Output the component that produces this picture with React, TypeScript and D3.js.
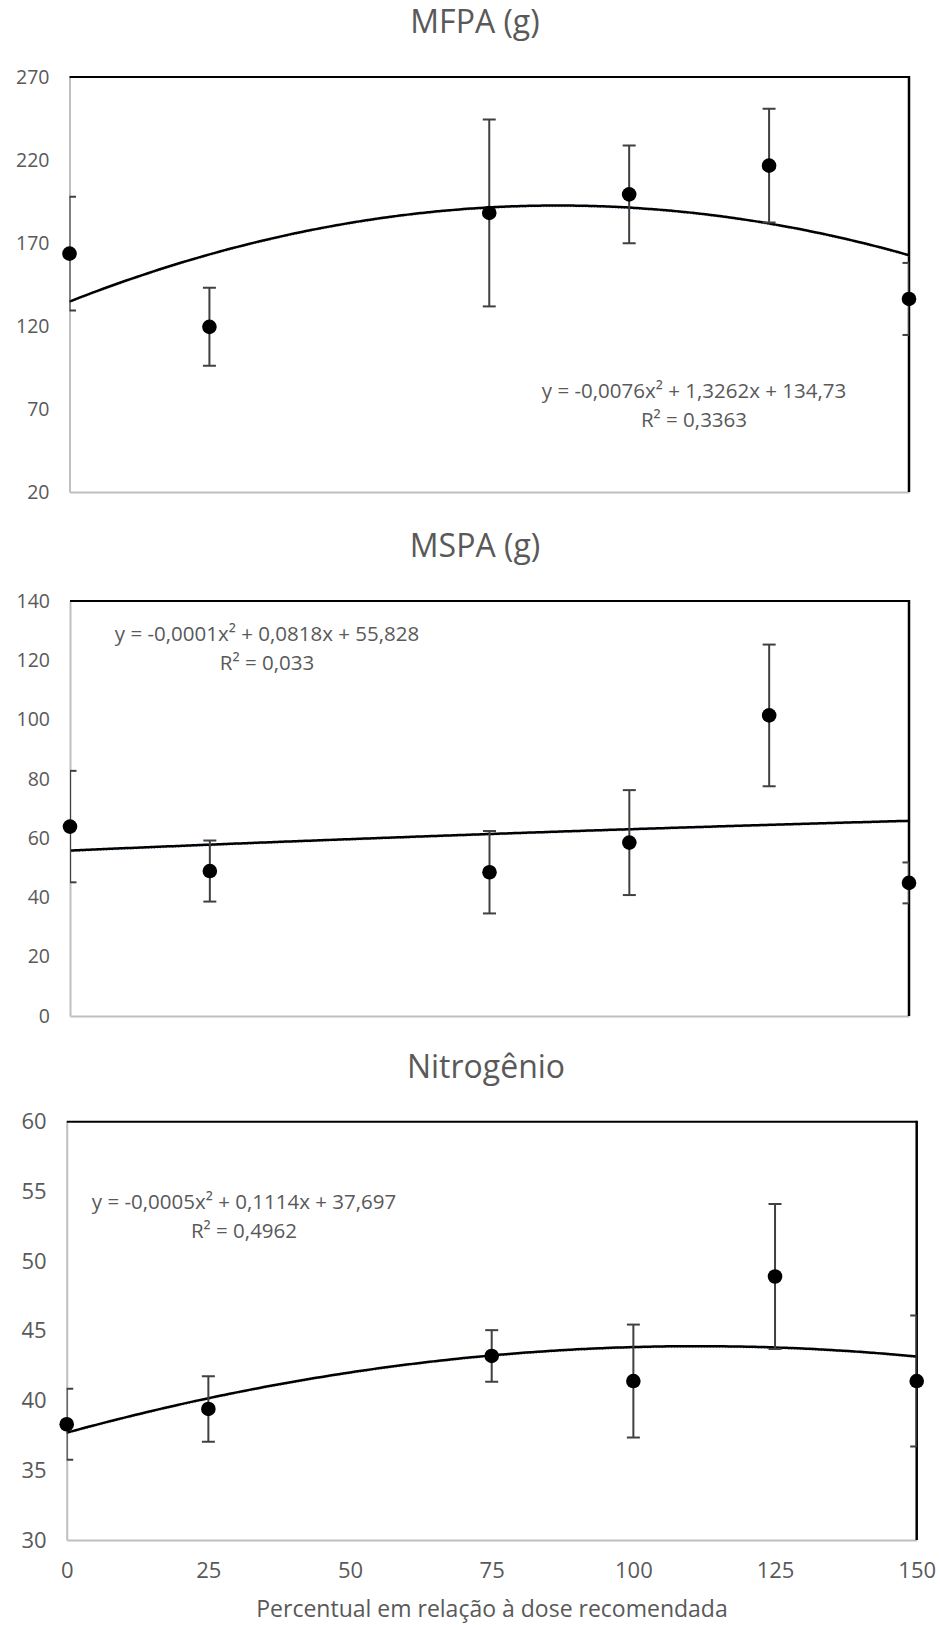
import React, { useEffect, useRef } from "react";
import * as d3 from "d3";

// doses (% of the recommended dose)
const doses = [0, 25, 75, 100, 125, 150];
const xTicks = [0, 25, 50, 75, 100, 125, 150];
const xAxisLabel = "Percentual em relação à dose recomendada";

const titles = ["MFPA (g)", "MSPA (g)", "Nitrogênio"];

const mfpaMean = [163.6, 119.5, 188.1, 199.3, 216.6, 136.3];
const mfpaErr = [34.3, 23.5, 56.3, 29.5, 34.2, 21.7];
const mfpaTicks = [20, 70, 120, 170, 220, 270];

const mspaMean = [63.9, 48.9, 48.5, 58.5, 101.4, 44.9];
const mspaErr = [18.8, 10.3, 13.9, 17.7, 23.9, 6.9];
const mspaTicks = [0, 20, 40, 60, 80, 100, 120, 140];

const nitroMean = [38.3, 39.4, 43.2, 41.4, 48.9, 41.4];
const nitroErr = [2.55, 2.35, 1.85, 4.05, 5.2, 4.7];
const nitroTicks = [30, 35, 40, 45, 50, 55, 60];

// quadratic trendlines as printed on the chart
const quadA = [-0.0076, -0.0001, -0.0005];
const quadB = [1.3262, 0.0818, 0.1114];
const quadC = [134.73, 55.828, 37.697];
const equations = [
  "y = -0,0076x² + 1,3262x + 134,73",
  "y = -0,0001x² + 0,0818x + 55,828",
  "y = -0,0005x² + 0,1114x + 37,697",
];
const r2Labels = ["R² = 0,3363", "R² = 0,033", "R² = 0,4962"];

const means = [mfpaMean, mspaMean, nitroMean];
const errs = [mfpaErr, mspaErr, nitroErr];
const yTicks = [mfpaTicks, mspaTicks, nitroTicks];

const layout = [
  { left: 69.5, right: 909, top: 77, bottom: 492, titleX: 475, titleY: 33, eqX: 694, eqY: 398, tick: 19.5 },
  { left: 70, right: 909, top: 601, bottom: 1016, titleX: 475, titleY: 557, eqX: 267, eqY: 641, tick: 19.5 },
  { left: 66.7, right: 916.7, top: 1121.7, bottom: 1540, titleX: 486, titleY: 1078, eqX: 244, eqY: 1209, tick: 22 },
];

const FONT = "'Open Sans', 'Noto Sans', sans-serif";
const TEXT = "#595959";

export default function App() {
  const svgRef = useRef<SVGSVGElement>(null);

  useEffect(() => {
    const svg = d3.select(svgRef.current);
    svg.selectAll("*").remove();

    layout.forEach((L, i) => {
      const g = svg.append("g");
      const ticks = yTicks[i];
      const x = d3.scaleLinear().domain([0, 150]).range([L.left, L.right]);
      const y = d3
        .scaleLinear()
        .domain([ticks[0], ticks[ticks.length - 1]])
        .range([L.bottom, L.top]);

      const clipId = `clip-${i}`;
      g.append("clipPath")
        .attr("id", clipId)
        .append("rect")
        .attr("x", L.left)
        .attr("y", L.top)
        .attr("width", L.right - L.left)
        .attr("height", L.bottom - L.top);

      // title
      g.append("text")
        .attr("x", L.titleX)
        .attr("y", L.titleY)
        .attr("text-anchor", "middle")
        .style("font-family", FONT)
        .style("font-size", "32px")
        .attr("fill", TEXT)
        .text(titles[i]);

      // Y axis (gray)
      const yAxis = g
        .append("g")
        .attr("transform", `translate(${L.left},0)`)
        .call(d3.axisLeft(y).tickValues(ticks).tickSize(0).tickPadding(20));
      yAxis.select(".domain").attr("stroke", "#bfbfbf").attr("stroke-width", 2);
      yAxis
        .selectAll("text")
        .style("font-family", FONT)
        .style("font-size", `${L.tick}px`)
        .attr("fill", TEXT);

      // X axis (gray), labels only on the last panel
      const xAxis = g
        .append("g")
        .attr("transform", `translate(0,${L.bottom})`)
        .call(
          d3
            .axisBottom(x)
            .tickValues(xTicks)
            .tickSize(0)
            .tickPadding(22)
            .tickFormat((d) => (i === 2 ? String(d) : ""))
        );
      xAxis.select(".domain").attr("stroke", "#bfbfbf").attr("stroke-width", 2);
      xAxis
        .selectAll("text")
        .style("font-family", FONT)
        .style("font-size", `${L.tick}px`)
        .attr("fill", TEXT);

      // top and right border (black)
      g.append("line")
        .attr("x1", L.left)
        .attr("x2", L.right)
        .attr("y1", L.top)
        .attr("y2", L.top)
        .attr("stroke", "#000")
        .attr("stroke-width", 2);
      g.append("line")
        .attr("x1", L.right)
        .attr("x2", L.right)
        .attr("y1", L.top - 1)
        .attr("y2", L.bottom)
        .attr("stroke", "#000")
        .attr("stroke-width", 2.5);

      // trendline
      const fit = (v: number) => quadA[i] * v * v + quadB[i] * v + quadC[i];
      const xs = d3.range(0, 150.5, 1);
      const line = d3
        .line<number>()
        .x((d) => x(d))
        .y((d) => y(fit(d)))
        .curve(d3.curveMonotoneX);
      g.append("path")
        .datum(xs)
        .attr("d", line)
        .attr("fill", "none")
        .attr("stroke", "#5b9bd5")
        .attr("stroke-width", 1)
        .attr("stroke-dasharray", "1,2")
        .attr("transform", "translate(0,1.2)");
      g.append("path")
        .datum(xs)
        .attr("d", line)
        .attr("fill", "none")
        .attr("stroke", "#000")
        .attr("stroke-width", 2.5);

      // error bars (clipped to plot area like Excel)
      const pts = doses.map((d, k) => ({ d, m: means[i][k], e: errs[i][k] }));
      const eb = g.append("g").attr("clip-path", `url(#${clipId})`);
      const bars = eb.selectAll("g").data(pts).enter().append("g");
      bars
        .append("line")
        .attr("x1", (p) => x(p.d))
        .attr("x2", (p) => x(p.d))
        .attr("y1", (p) => y(p.m - p.e))
        .attr("y2", (p) => y(p.m + p.e))
        .attr("stroke", "#404040")
        .attr("stroke-width", 2);
      [1, -1].forEach((s) => {
        bars
          .append("line")
          .attr("x1", (p) => x(p.d) - 6.5)
          .attr("x2", (p) => x(p.d) + 6.5)
          .attr("y1", (p) => y(p.m + s * p.e))
          .attr("y2", (p) => y(p.m + s * p.e))
          .attr("stroke", "#404040")
          .attr("stroke-width", 2);
      });

      // points
      g.append("g")
        .selectAll("circle")
        .data(pts)
        .enter()
        .append("circle")
        .attr("cx", (p) => x(p.d))
        .attr("cy", (p) => y(p.m))
        .attr("r", 7.3)
        .attr("fill", "#000");

      // equation label
      const eq = g
        .append("text")
        .attr("text-anchor", "middle")
        .style("font-family", FONT)
        .style("font-size", "20.5px")
        .attr("fill", TEXT);
      eq.append("tspan").attr("x", L.eqX).attr("y", L.eqY).text(equations[i]);
      eq.append("tspan").attr("x", L.eqX).attr("y", L.eqY + 29).text(r2Labels[i]);

      if (i === 2) {
        g.append("text")
          .attr("x", 492)
          .attr("y", 1617)
          .attr("text-anchor", "middle")
          .style("font-family", FONT)
          .style("font-size", "23px")
          .attr("fill", TEXT)
          .text(xAxisLabel);
      }
    });
  }, []);

  return (
    <div style={{ position: "absolute", left: 0, top: 0, background: "#fff" }}>
      <svg ref={svgRef} width={940} height={1625} />
    </div>
  );
}
